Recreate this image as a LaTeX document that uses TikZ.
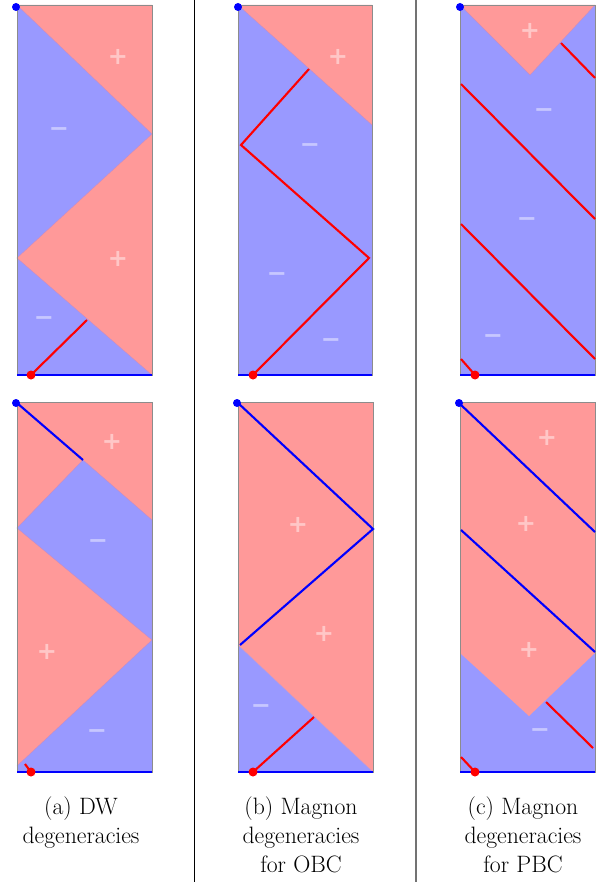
\documentclass[tikz,border=0pt]{standalone}
\usepackage{fontspec}
\newfontfamily\signfont{DejaVu Sans}
\begin{document}
\begin{tikzpicture}[x=1pt,y=-1pt,
  posreg/.style={fill=red!40},
  negreg/.style={fill=blue!40},
  bnd/.style={draw=violet!45,line width=0.4pt},
  framebox/.style={draw=black!45,line width=0.7pt},
  redln/.style={draw=red,line width=2.1pt},
  bluln/.style={draw=blue,line width=2.1pt},
  basel/.style={draw=blue,line width=2.3pt},
  sgn/.style={text=white,text opacity=0.45,font=\signfont\bfseries\fontsize{24}{24}\selectfont,inner sep=0pt},
  captxt/.style={anchor=base,inner sep=0pt,font=\fontsize{23.7}{29}\selectfont},
  bdot/.style={fill=blue},
  rdot/.style={fill=red}]
\useasboundingbox (0,0) rectangle (608,882);
\fill[white] (0,0) rectangle (608,882);

% ================= (a) top =================
\fill[negreg] (17,5) rectangle (152,375);
\fill[posreg] (17,5) -- (152,5) -- (152,134) -- cycle;
\fill[posreg] (152,134) -- (17,258) -- (152,375) -- cycle;
\draw[bnd] (17,5) -- (152,134) -- (17,258) -- (152,375);
\draw[framebox] (17,5) rectangle (152,375);
\coordinate (aT1) at (31,375); \coordinate (aT2) at (87,320);
\draw[redln] (aT1) -- (aT2);
\coordinate (aTl) at (17,375); \coordinate (aTr) at (152,375);
\draw[basel] (aTl) -- (aTr);
\node[sgn] (aTp1) at (118,57) {+};
\node[sgn] (aTm1) at (59,132) {−};
\node[sgn] (aTp2) at (118,259) {+};
\node[sgn] (aTm2) at (44,321) {−};
\fill[bdot] (16,7) circle (4);
\fill[rdot] (aT1) circle (4.5);

% ================= (b) top =================
\fill[negreg] (238,5) rectangle (372,375);
\fill[posreg] (238,5) -- (372,5) -- (372,125) -- cycle;
\draw[bnd] (238,5) -- (372,125);
\draw[framebox] (238,5) rectangle (372,375);
\coordinate (bT1) at (253,375); \coordinate (bT2) at (369,258);
\coordinate (bT3) at (241,145); \coordinate (bT4) at (309,69);
\draw[redln,line join=miter] (bT1) -- (bT2) -- (bT3) -- (bT4);
\coordinate (bTl) at (238,375); \coordinate (bTr) at (372,375);
\draw[basel] (bTl) -- (bTr);
\node[sgn] (bTp1) at (338,57) {+};
\node[sgn] (bTm1) at (310,148) {−};
\node[sgn] (bTm2) at (277,277) {−};
\node[sgn] (bTm3) at (331,343) {−};
\fill[bdot] (238,7) circle (4);
\fill[rdot] (bT1) circle (4.5);

% ================= (c) top =================
\fill[negreg] (460,5) rectangle (595,375);
\fill[posreg] (460,5) -- (595,5) -- (530,75) -- cycle;
\draw[bnd] (460,5) -- (530,75) -- (595,5);
\draw[framebox] (460,5) rectangle (595,375);
\coordinate (cT1) at (561,43);  \coordinate (cT2) at (595,78);
\coordinate (cT3) at (461,84);  \coordinate (cT4) at (595,219);
\coordinate (cT5) at (461,224); \coordinate (cT6) at (595,359);
\coordinate (cT7) at (461,359); \coordinate (cT8) at (475,375);
\draw[redln] (cT1) -- (cT2);
\draw[redln] (cT3) -- (cT4);
\draw[redln] (cT5) -- (cT6);
\draw[redln] (cT7) -- (cT8);
\coordinate (cTl) at (460,375); \coordinate (cTr) at (595,375);
\draw[basel] (cTl) -- (cTr);
\node[sgn] (cTp1) at (530,31) {+};
\node[sgn] (cTm1) at (544,113) {−};
\node[sgn] (cTm2) at (527,222) {−};
\node[sgn] (cTm3) at (493,339) {−};
\fill[bdot] (460,7) circle (4);
\fill[rdot] (cT8) circle (4.5);

% ================= (a) bottom =================
\fill[posreg] (17,402) rectangle (152,772);
\fill[negreg] (83,460) -- (152,520) -- (152,640) -- (17,528) -- cycle;
\fill[negreg] (152,640) -- (152,772) -- (17,772) -- (17,766) -- cycle;
\draw[bnd] (152,520) -- (83,460) -- (17,528) -- (152,640) -- (152,520);
\draw[bnd] (152,640) -- (17,766);
\draw[framebox] (17,402) rectangle (152,772);
\coordinate (aB0) at (17,403); \coordinate (aB1) at (83,460);
\draw[bluln] (aB0) -- (aB1);
\coordinate (aB2) at (25,764); \coordinate (aB3) at (31,772);
\draw[redln] (aB2) -- (aB3);
\coordinate (aBl) at (17,772); \coordinate (aBr) at (152,772);
\draw[basel] (aBl) -- (aBr);
\node[sgn] (aBp1) at (112,442) {+};
\node[sgn] (aBm1) at (98,544) {−};
\node[sgn] (aBp2) at (47,652) {+};
\node[sgn] (aBm2) at (97,734) {−};
\fill[bdot] (16,403) circle (4);
\fill[rdot] (aB3) circle (4.5);

% ================= (b) bottom =================
\fill[posreg] (238,402) rectangle (373,772);
\fill[negreg] (238,645) -- (373,772) -- (238,772) -- cycle;
\draw[draw=white!60!violet,line width=0.4pt] (238,645) -- (373,772);
\draw[framebox] (238,402) rectangle (373,772);
\coordinate (bB0) at (238,403); \coordinate (bB1) at (373,529);
\coordinate (bB2) at (240,645);
\draw[bluln,line join=miter] (bB0) -- (bB1) -- (bB2);
\coordinate (bB3) at (253,772); \coordinate (bB4) at (314,717);
\draw[redln] (bB3) -- (bB4);
\coordinate (bBl) at (238,772); \coordinate (bBr) at (373,772);
\draw[basel] (bBl) -- (bBr);
\node[sgn] (bBp1) at (298,525) {+};
\node[sgn] (bBp2) at (324,634) {+};
\node[sgn] (bBm1) at (261,709) {−};
\fill[bdot] (237,403) circle (4);
\fill[rdot] (bB3) circle (4.5);

% ================= (c) bottom =================
\fill[negreg] (460,402) rectangle (595,772);
\fill[posreg] (460,402) -- (595,402) -- (595,653) -- (529,716) -- (460,653) -- cycle;
\draw[framebox] (460,402) rectangle (595,772);
\coordinate (cB0) at (460,404); \coordinate (cB1) at (595,532);
\coordinate (cB2) at (461,530); \coordinate (cB3) at (595,652);
\draw[bluln] (cB0) -- (cB1);
\draw[bluln] (cB2) -- (cB3);
\coordinate (cB4) at (546,702); \coordinate (cB5) at (593,748);
\coordinate (cB6) at (461,757); \coordinate (cB7) at (475,772);
\draw[redln] (cB4) -- (cB5);
\draw[redln] (cB6) -- (cB7);
\coordinate (cBl) at (460,772); \coordinate (cBr) at (595,772);
\draw[basel] (cBl) -- (cBr);
\node[sgn] (cBp1) at (547,438) {+};
\node[sgn] (cBp2) at (526,524) {+};
\node[sgn] (cBp3) at (529,650) {+};
\node[sgn] (cBm1) at (540,733) {−};
\fill[bdot] (459,403) circle (4);
\fill[rdot] (cB7) circle (4.5);

% ================= separators =================
\coordinate (s1t) at (194,0); \coordinate (s1b) at (194,882);
\coordinate (s2t) at (416,0); \coordinate (s2b) at (416,882);
\draw[black,line width=1pt] (s1t) -- (s1b);
\draw[black!55,line width=1.1pt] (s2t) -- (s2b);

% ================= captions =================
\node[captxt] (capa1) at (81,814) {(a) DW};
\node[captxt] (capa2) at (81,843) {degeneracies};
\node[captxt] (capb1) at (301,814) {(b) Magnon};
\node[captxt] (capb2) at (301,843) {degeneracies};
\node[captxt] (capb3) at (301,872) {for OBC};
\node[captxt] (capc1) at (523,814) {(c) Magnon};
\node[captxt] (capc2) at (523,843) {degeneracies};
\node[captxt] (capc3) at (523,872) {for PBC};
\end{tikzpicture}
\end{document}
